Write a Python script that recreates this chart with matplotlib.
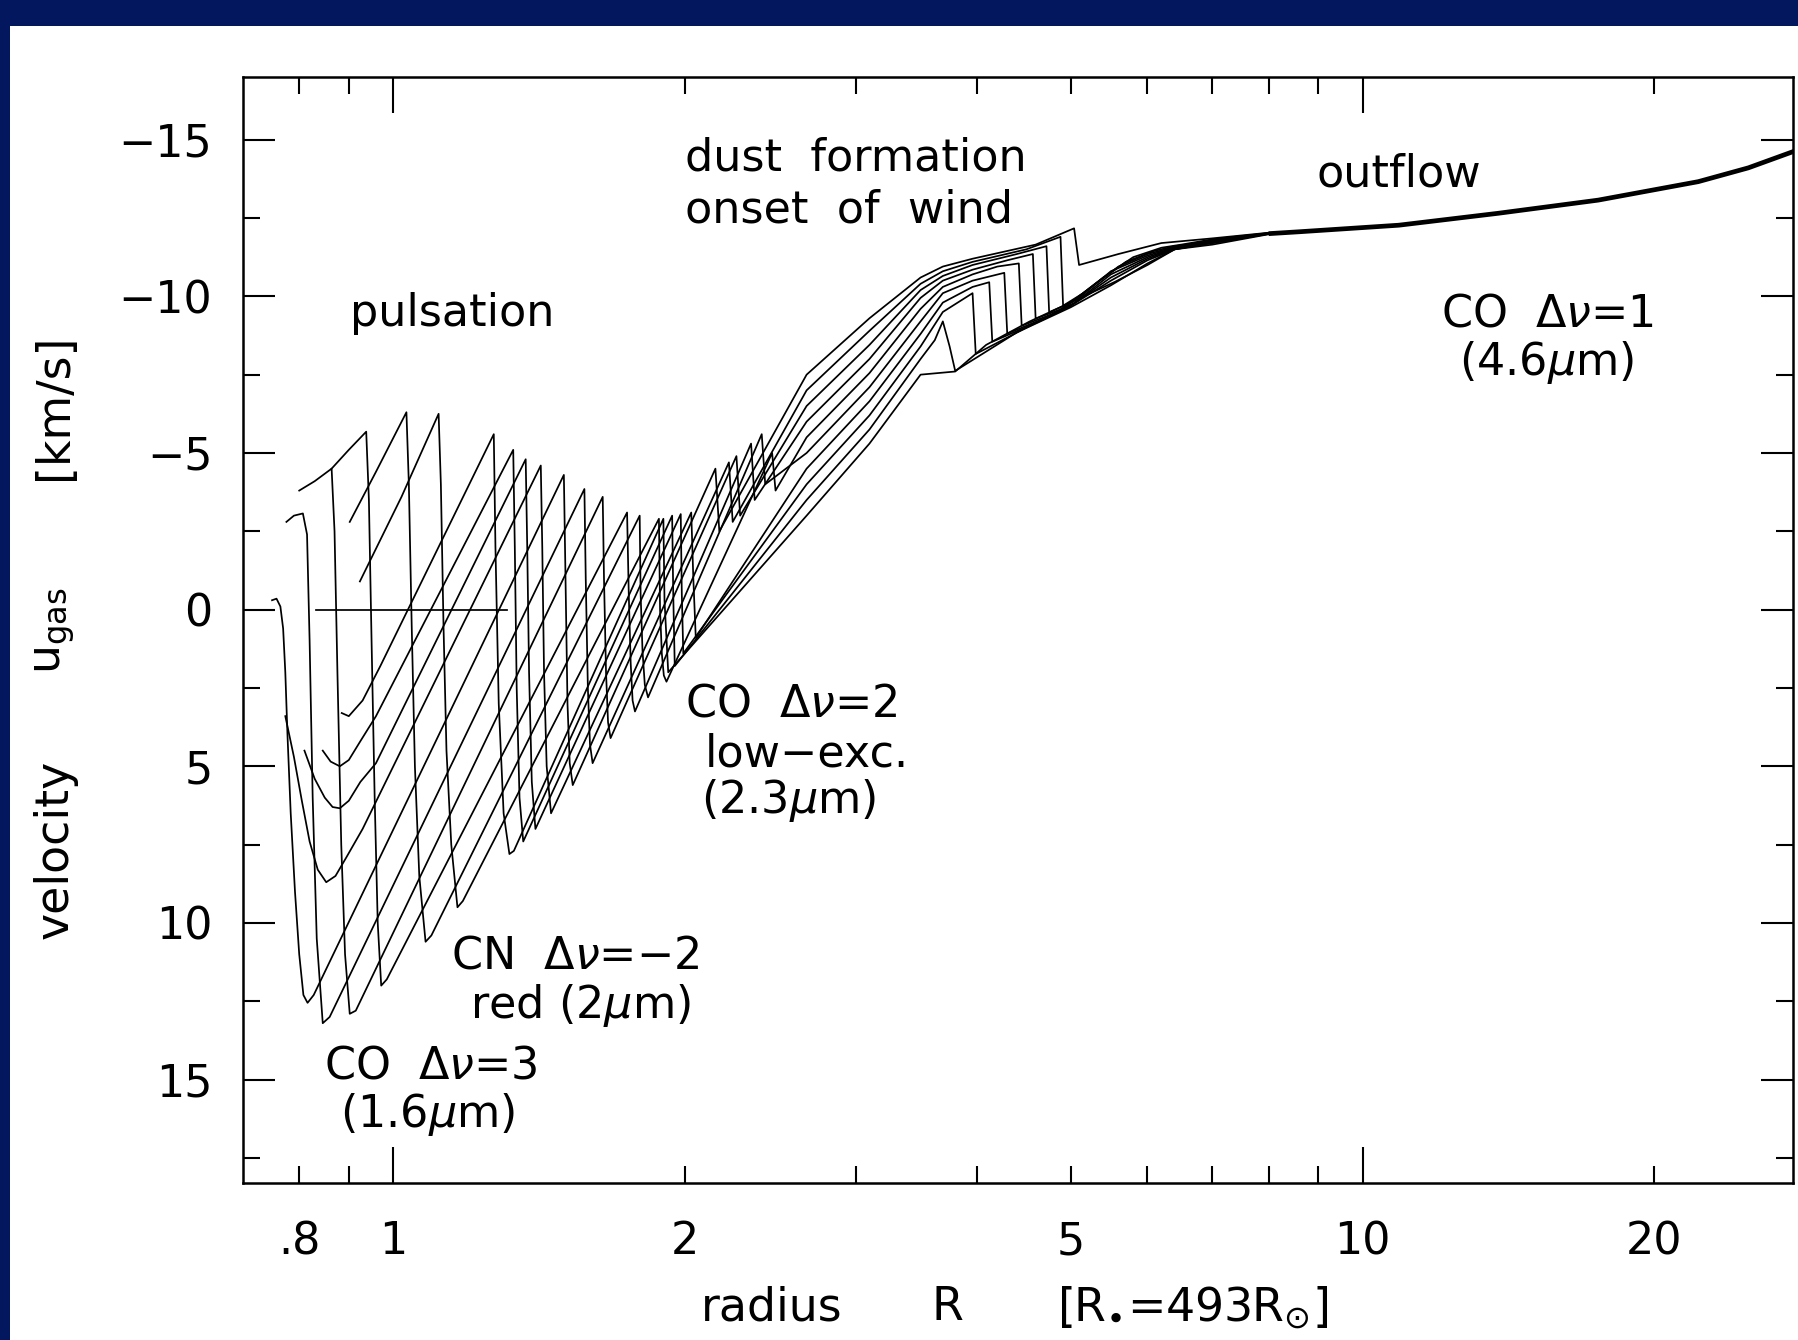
import matplotlib
matplotlib.use('Agg')
import matplotlib.pyplot as plt
from matplotlib.ticker import FixedLocator, FixedFormatter
from matplotlib.patches import Rectangle

plt.rcParams['font.family'] = ['DejaVu Sans']
plt.rcParams['mathtext.fontset'] = 'dejavusans'

# ---------------- data: velocity profiles u_gas(R) at 10 pulsation phases -------------
snap_a_r = [0.750, 0.758, 0.765, 0.770, 0.774, 0.778, 0.784, 0.792, 0.800, 0.808, 0.816, 0.828,
            1.500, 1.505, 1.513, 1.521, 1.532, 2.150, 2.170,
            2.67, 3.10, 3.50, 3.69, 3.96, 4.60, 5.04, 5.10, 5.60, 6.20, 7.00, 8.00]
snap_a_u = [-0.3, -0.35, -0.1, 0.6, 2.0, 4.0, 6.5, 9.0, 11.0, 12.3, 12.55, 12.3,
            -4.3, -1.5, 3.0, 4.9, 5.6, -4.5, -2.5,
            -7.5, -9.3, -10.6, -10.95, -11.2, -11.65, -12.17, -11.0, -11.35, -11.7, -11.85, -12.03]

snap_b_r = [0.776, 0.790, 0.807, 0.815, 0.820, 0.826, 0.834, 0.846, 0.860,
            1.575, 1.580, 1.588, 1.596, 1.606, 2.220, 2.240,
            2.67, 3.10, 3.50, 3.69, 3.96, 4.50, 4.88, 4.91, 5.15, 5.40, 5.80, 6.20, 6.50, 7.00, 8.00]
snap_b_u = [-2.8, -3.0, -3.07, -2.4, 1.0, 6.0, 10.5, 13.2, 13.0,
            -3.85, -1.0, 2.5, 4.3, 4.9, -4.7, -2.8,
            -7.0, -8.9, -10.4, -10.8, -11.1, -11.5, -11.9, -9.7, -10.1, -10.6, -11.25, -11.55, -11.65, -11.82, -12.02]

snap_c_r = [0.800, 0.830, 0.864, 0.870, 0.876, 0.884, 0.892, 0.902, 0.915,
            1.645, 1.650, 1.658, 1.666, 1.676, 2.260, 2.280,
            2.67, 3.10, 3.50, 3.69, 3.96, 4.40, 4.72, 4.75, 5.00, 5.30, 5.70, 6.10, 6.40, 7.00, 8.00]
snap_c_u = [-3.8, -4.1, -4.5, -2.5, 2.0, 7.5, 11.0, 12.9, 12.8,
            -3.6, -1.0, 2.0, 3.6, 4.1, -4.9, -3.0,
            -6.5, -8.45, -10.2, -10.65, -11.0, -11.35, -11.6, -9.49, -9.8, -10.4, -11.1, -11.45, -11.6, -11.76, -12.0]

snap_d_r = [0.864, 0.900, 0.938, 0.944, 0.950, 0.957, 0.964, 0.972, 0.985,
            1.743, 1.750, 1.758, 1.766, 1.776, 2.340, 2.360,
            2.67, 3.10, 3.50, 3.69, 3.96, 4.30, 4.57, 4.60, 4.90, 5.20, 5.60, 6.00, 6.40, 7.00, 8.00]
snap_d_u = [-4.5, -5.1, -5.68, -3.5, 1.0, 6.0, 10.0, 12.0, 11.8,
            -3.1, -0.5, 1.7, 2.9, 3.25, -5.3, -3.5,
            -6.0, -8.0, -9.95, -10.5, -10.85, -11.15, -11.35, -9.29, -9.6, -10.2, -10.95, -11.35, -11.57, -11.7, -11.99]

snap_e_r = [0.902, 0.960, 1.032, 1.038, 1.045, 1.053, 1.064, 1.080, 1.095,
            1.796, 1.800, 1.808, 1.818, 1.832, 2.400, 2.420,
            2.67, 3.10, 3.50, 3.69, 3.96, 4.27, 4.30, 4.70, 5.05, 5.50, 6.00, 6.40, 7.00, 8.00]
snap_e_u = [-2.8, -4.4, -6.3, -4.0, 0.5, 5.0, 8.5, 10.6, 10.4,
            -3.0, -0.5, 1.3, 2.4, 2.8, -5.6, -4.0,
            -5.0, -7.1, -9.2, -10.1, -10.5, -10.75, -8.81, -9.3, -9.8, -10.7, -11.25, -11.53, -11.8, -12.0]

snap_f_r = [0.924, 1.020, 1.114, 1.120, 1.127, 1.135, 1.148, 1.165, 1.180,
            1.880, 1.885, 1.893, 1.902, 1.914, 2.460, 2.480,
            2.67, 3.10, 3.50, 3.69, 3.96, 4.20, 4.42, 4.45, 4.80, 5.10, 5.50, 6.00, 6.40, 7.00, 8.00]
snap_f_u = [-0.9, -3.6, -6.25, -4.0, 0.5, 4.5, 7.5, 9.5, 9.3,
            -2.9, 0.0, 1.4, 2.1, 2.3, -5.0, -3.8,
            -5.5, -7.55, -9.6, -10.3, -10.7, -10.95, -11.05, -9.06, -9.45, -9.95, -10.8, -11.3, -11.55, -11.78, -12.01]

snap_g_r = [0.774, 0.790, 0.805, 0.820, 0.836, 0.853, 0.872, 0.895, 0.930,
            1.420, 1.425, 1.431, 1.440, 1.455, 2.030, 2.040, 2.052,
            2.67, 3.10, 3.50, 3.69, 3.96, 4.12, 4.15, 4.60, 5.00, 5.50, 6.00, 6.40, 7.00, 8.00]
snap_g_u = [3.4, 4.7, 6.1, 7.4, 8.3, 8.7, 8.5, 7.9, 7.0,
            -4.6, -2.0, 2.0, 5.0, 6.5, -3.1, -1.0, 0.9,
            -4.5, -6.65, -8.8, -9.8, -10.3, -10.45, -8.55, -9.15, -9.7, -10.6, -11.2, -11.52, -11.75, -12.02]

snap_h_r = [0.810, 0.830, 0.850, 0.866, 0.881, 0.900, 0.925, 0.960,
            1.370, 1.375, 1.381, 1.390, 1.402, 1.980, 1.985, 1.992,
            2.67, 3.10, 3.50, 3.69, 3.96, 3.99, 4.50, 5.00, 5.50, 6.00, 6.40, 7.00, 8.00]
snap_h_u = [4.5, 5.4, 6.0, 6.3, 6.34, 6.1, 5.5, 4.9,
            -4.8, -2.0, 2.0, 5.5, 7.0, -3.05, -0.5, 1.4,
            -4.0, -6.2, -8.4, -9.5, -10.1, -8.16, -9.0, -9.7, -10.5, -11.15, -11.5, -11.7, -12.0]

snap_i_r = [0.846, 0.862, 0.881, 0.900, 0.925, 0.960,
            1.330, 1.335, 1.341, 1.350, 1.362, 1.940, 1.945, 1.952,
            2.67, 3.10, 3.50, 3.62, 3.69, 3.75, 3.80, 4.40, 5.00, 5.50, 6.00, 6.40, 7.00, 8.00]
snap_i_u = [4.5, 4.85, 5.0, 4.8, 4.2, 3.4,
            -5.1, -2.0, 2.5, 6.0, 7.4, -3.0, -0.5, 1.8,
            -3.5, -5.75, -8.0, -8.6, -9.2, -8.4, -7.62, -8.85, -9.65, -10.35, -11.05, -11.5, -11.65, -11.98]

snap_j_r = [0.885, 0.900, 0.930, 0.970,
            1.270, 1.275, 1.285, 1.300, 1.318, 1.332, 1.900, 1.905, 1.922,
            2.67, 3.10, 3.50, 3.80, 4.09, 4.53, 5.10, 5.56, 6.00, 6.40, 7.00, 8.00]
snap_j_u = [3.3, 3.4, 2.9, 1.8,
            -5.6, -2.0, 3.0, 6.5, 7.8, 7.7, -2.9, -0.3, 2.0,
            -3.0, -5.3, -7.5, -7.6, -8.45, -9.19, -9.93, -10.47, -11.0, -11.5, -11.72, -12.0]

# common outflow (all phases converge)
outflow_r = [8.0, 8.6, 10.9, 13.8, 17.5, 22.2, 25.0, 27.7, 30.0]
outflow_u = [-12.0, -12.06, -12.27, -12.65, -13.07, -13.66, -14.1, -14.6, -15.0]

# horizontal reference line at u = 0
static_r = [0.833, 1.312]
static_u = [0.0, 0.0]

x_major = [1, 10]
x_major_labels = ['1', '10']
x_minor = [0.8, 0.9, 2, 3, 4, 5, 6, 7, 8, 9, 20]
x_minor_labels = ['.8', '', '2', '', '', '5', '', '', '', '', '20']
y_major = [-15, -10, -5, 0, 5, 10, 15]
y_major_labels = ['\u221215', '\u221210', '\u22125', '0', '5', '10', '15']
y_minor = [-12.5, -7.5, -2.5, 2.5, 7.5, 12.5, 17.5]

snapshots = [(snap_a_r, snap_a_u), (snap_b_r, snap_b_u), (snap_c_r, snap_c_u),
             (snap_d_r, snap_d_u), (snap_e_r, snap_e_u), (snap_f_r, snap_f_u),
             (snap_g_r, snap_g_u), (snap_h_r, snap_h_u), (snap_i_r, snap_i_u),
             (snap_j_r, snap_j_u)]

# ---------------- figure ----------------
W, H = 1799, 1340
fig = plt.figure(figsize=(W / 100, H / 100), dpi=100)
fig.patch.set_facecolor('#03175F')
fig.patches.append(Rectangle((10 / W, 0), 1, 1 - 26 / H, transform=fig.transFigure,
                             facecolor='white', edgecolor='none', zorder=-10))

ax = fig.add_axes([243 / W, 1 - 1183 / H, (1793 - 243) / W, (1183 - 77) / H])
ax.set_zorder(5)
ax.set_facecolor('white')

for r, u in snapshots:
    ax.plot(r, u, color='black', lw=1.25, solid_joinstyle='round')
ax.plot(outflow_r, outflow_u, color='black', lw=3.4, solid_capstyle='butt')
ax.plot(static_r, static_u, color='black', lw=1.25)

ax.set_xscale('log')
ax.set_xlim(0.70, 27.8)
ax.set_ylim(18.3, -17.0)

ax.xaxis.set_major_locator(FixedLocator(x_major))
ax.xaxis.set_major_formatter(FixedFormatter(x_major_labels))
ax.xaxis.set_minor_locator(FixedLocator(x_minor))
ax.xaxis.set_minor_formatter(FixedFormatter(x_minor_labels))
ax.yaxis.set_major_locator(FixedLocator(y_major))
ax.yaxis.set_minor_locator(FixedLocator(y_minor))
ax.yaxis.set_major_formatter(FixedFormatter(y_major_labels))

ax.tick_params(axis='x', which='major', direction='in', top=True, bottom=True,
               length=26, width=1.5, labelsize=32, pad=27)
ax.tick_params(axis='x', which='minor', direction='in', top=True, bottom=True,
               length=12, width=1.5, labelsize=32, pad=27)
ax.tick_params(axis='y', which='major', direction='in', left=True, right=True,
               length=23, width=1.5, labelsize=32, pad=22)
ax.tick_params(axis='y', which='minor', direction='in', left=True, right=True,
               length=12, width=1.5)
for s in ax.spines.values():
    s.set_linewidth(1.8)

# ---------------- annotations ----------------
fs = 32
ax.text(0.902, -9.45, 'pulsation', fontsize=fs, ha='left', va='center')
ax.text(2.0, -14.4, 'dust  formation', fontsize=fs, ha='left', va='center')
ax.text(2.0, -12.75, 'onset  of  wind', fontsize=fs, ha='left', va='center')
ax.text(8.97, -13.9, 'outflow', fontsize=fs, ha='left', va='center')
ax.text(15.5, -9.45, r'CO  $\Delta\nu$=1', fontsize=fs, ha='center', va='center')
ax.text(15.5, -7.9, r'(4.6$\mu$m)', fontsize=fs, ha='center', va='center')
ax.text(2.0, 3.0, r'CO  $\Delta\nu$=2', fontsize=fs, ha='left', va='center')
ax.text(2.095, 4.6, 'low\u2212exc.', fontsize=fs, ha='left', va='center')
ax.text(2.08, 6.1, r'(2.3$\mu$m)', fontsize=fs, ha='left', va='center')
ax.text(1.146, 11.06, r'CN  $\Delta\nu$=$-$2', fontsize=fs, ha='left', va='center')
ax.text(1.20, 12.64, r'red (2$\mu$m)', fontsize=fs, ha='left', va='center')
ax.text(0.849, 14.58, r'CO  $\Delta\nu$=3', fontsize=fs, ha='left', va='center')
ax.text(0.882, 16.1, r'(1.6$\mu$m)', fontsize=fs, ha='left', va='center')

# axis titles
yl = 1 - 1308 / H
fig.text(772 / W, yl, 'radius', fontsize=33, ha='center', va='center')
fig.text(947 / W, yl, 'R', fontsize=33, ha='center', va='center')
fig.text(1193 / W, yl, r'[R$_{\bullet}$=493R$_{\odot}$]', fontsize=33, ha='center', va='center')
xl = 55 / W
fig.text(xl, 1 - 849 / H, 'velocity', fontsize=33, rotation=90, ha='center', va='center')
fig.text(xl, 1 - 631 / H, r'u$_{\rm gas}$', fontsize=33, rotation=90, ha='center', va='center')
fig.text(xl, 1 - 407 / H, '[km/s]', fontsize=33, rotation=90, ha='center', va='center')

fig.savefig('out.png', dpi=100, facecolor=fig.get_facecolor())
